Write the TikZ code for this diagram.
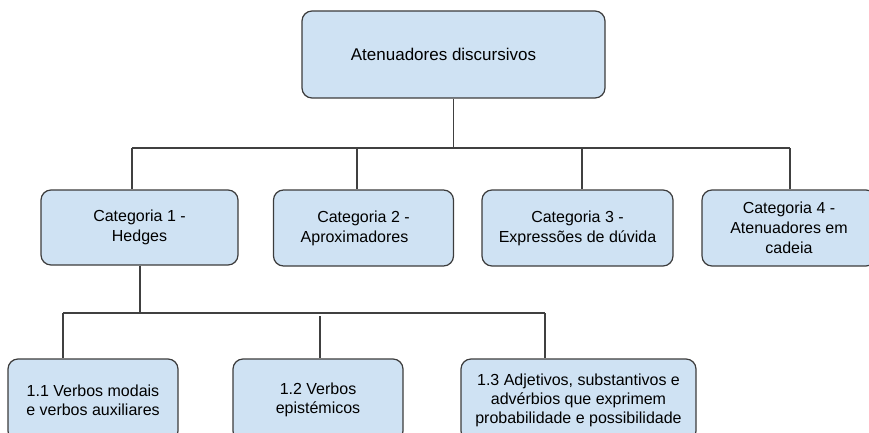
\documentclass[tikz,border=0pt]{standalone}
\usepackage{fontspec}
\setmainfont{Liberation Sans}
\definecolor{boxfill}{HTML}{CFE2F3}
\definecolor{boxline}{HTML}{3C3C3C}
\definecolor{wire}{HTML}{404040}
\begin{document}
\begin{tikzpicture}[x=1pt,y=-1pt,
  box/.style={draw=boxline,fill=boxfill,line width=1.2pt,rounded corners=10pt,
    align=center,inner sep=0pt,font=\fontsize{16}{20}\selectfont},
  wirestyle/.style={draw=wire,line width=1.1pt}]
\useasboundingbox (0,0) rectangle (869,433);
\clip (0,0) rectangle (869,433);
% top
\node[box,minimum width=303pt,minimum height=87pt,font=\fontsize{17}{20}\selectfont] (top) at (453.5,54.5) {Atenuadores discursivos\hspace*{20pt}};
% categories
\node[box,minimum width=197pt,minimum height=75pt] (c1) at (139.5,227.5) {Categoria 1 -\\Hedges};
\node[box,minimum width=180pt,minimum height=76pt] (c2) at (363.5,228) {Categoria 2 -\\Aproximadores\hspace*{18pt}};
\node[box,minimum width=191pt,minimum height=76pt] (c3) at (577.5,228) {Categoria 3 -\\Expressões de dúvida};
\node[box,minimum width=174pt,minimum height=76pt] (c4) at (789,228) {Categoria 4 -\\Atenuadores em\\cadeia};
% subcategories
\node[box,minimum width=170pt,minimum height=82pt,font=\fontsize{16}{19}\selectfont] (s1) at (93,400) {1.1 Verbos modais\\e verbos auxiliares};
\node[box,minimum width=170pt,minimum height=82pt,font=\fontsize{16}{19}\selectfont] (s2) at (318,400) {1.2 Verbos\\epistémicos};
\node[box,minimum width=235pt,minimum height=82pt,font=\fontsize{16}{19}\selectfont] (s3) at (578.5,400) {1.3 Adjetivos, substantivos e\\advérbios que exprimem\\probabilidade e possibilidade};
% bus 1
\coordinate (b1) at (132,148);
\coordinate (b2) at (357,148);
\coordinate (b3) at (582,148);
\coordinate (b4) at (790,148);
\draw[wirestyle] (b1) -- (b4);
\draw[wirestyle] (top.south) -- (top.south |- b1);
\draw[wirestyle] (b1) -- (b1 |- c1.north);
\draw[wirestyle] (b2) -- (b2 |- c2.north);
\draw[wirestyle] (b3) -- (b3 |- c3.north);
\draw[wirestyle] (b4) -- (b4 |- c4.north);
% bus 2
\coordinate (d1) at (63,313);
\coordinate (d2) at (320,316);
\coordinate (d3) at (545,313);
\coordinate (dc) at (140,313);
\draw[wirestyle] (d1) -- (d3);
\draw[wirestyle] (c1.south -| dc) -- (dc);
\draw[wirestyle] (d1) -- (d1 |- s1.north);
\draw[wirestyle] (d2) -- (d2 |- s2.north);
\draw[wirestyle] (d3) -- (d3 |- s3.north);
\end{tikzpicture}
\end{document}
